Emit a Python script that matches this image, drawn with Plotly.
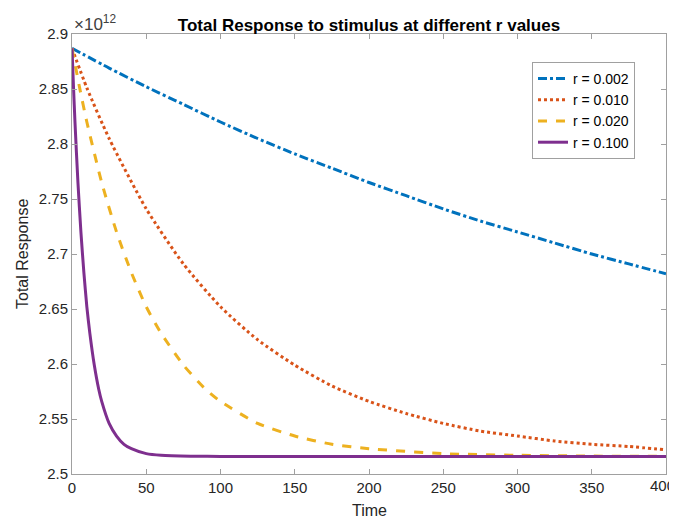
import plotly.graph_objects as go

# Values (Total Response in units of 1e12)
t_slow = [0, 25, 50, 75, 100, 125, 150, 175, 200, 225, 250, 275, 300, 325, 350, 375, 400]
r002 = [2.887, 2.869, 2.852, 2.836, 2.820, 2.805, 2.791, 2.778, 2.765, 2.753, 2.741, 2.730, 2.720, 2.710, 2.700, 2.691, 2.682]

t_mid = [0, 10, 25, 50, 75, 100, 125, 150, 175, 200, 225, 250, 275, 300, 325, 350, 375, 400]
r010 = [2.887, 2.851, 2.805, 2.741, 2.691, 2.652, 2.622, 2.599, 2.580, 2.566, 2.555, 2.546, 2.539, 2.5345, 2.530, 2.527, 2.525, 2.522]

t_fast = [0, 5, 10, 20, 30, 40, 50, 60, 75, 90, 100, 125, 150, 175, 200, 250, 300, 350, 400]
r020 = [2.887, 2.852, 2.820, 2.765, 2.720, 2.683, 2.652, 2.628, 2.599, 2.577, 2.566, 2.546, 2.5345, 2.527, 2.523, 2.5185, 2.517, 2.5163, 2.516]

t_vfast = [0, 1, 2, 4, 6, 8, 10, 12, 15, 18, 20, 25, 30, 35, 40, 50, 60, 80, 100, 200, 300, 400]
r100 = [2.887, 2.852, 2.820, 2.765, 2.720, 2.683, 2.652, 2.628, 2.599, 2.577, 2.566, 2.546, 2.5345, 2.527, 2.523, 2.5185, 2.517, 2.5162, 2.516, 2.516, 2.516, 2.516]

labels = ["r = 0.002", "r = 0.010", "r = 0.020", "r = 0.100"]
colors = ["#0072BD", "#D95319", "#EDB120", "#7E2F8E"]
dashes = ["dashdot", "dot", "dash", "solid"]
x_ticks = [0, 50, 100, 150, 200, 250, 300, 350, 400]

series = [(t_slow, r002), (t_mid, r010), (t_fast, r020), (t_vfast, r100)]

fig = go.Figure()
for (x, y), lab, c, d in zip(series, labels, colors, dashes):
    fig.add_trace(go.Scatter(x=x, y=y, mode="lines", name=lab,
                             line=dict(color=c, width=3, dash=d, shape="spline", smoothing=0.6)))

FONT = "Liberation Sans, Arial, Helvetica"
TICKFONT = dict(family=FONT, size=15, color="#262626")
axis_common = dict(showgrid=False, zeroline=False, showline=True, linecolor="#a0a0a0",
                   linewidth=1, mirror="ticks", ticks="inside", ticklen=5, tickcolor="#a0a0a0",
                   automargin=False, tickfont=TICKFONT)

# the page body has an 8px default margin, so work in page coords minus 8
O = 8
W, H = 677 - O, 521 - O
L, R, T, B = 72 - O, 666 - O, 34 - O, 474 - O

fig.update_layout(
    width=W, height=H,
    paper_bgcolor="white", plot_bgcolor="white",
    margin=dict(l=L, r=W - R, t=T, b=H - B, autoexpand=False),
    title=dict(text="<b>Total Response to stimulus at different r values</b>",
               x=(L + R) / 2 / W, xanchor="center", y=1 - (25 - O) / H, yanchor="middle",
               font=dict(family=FONT, size=17, color="black")),
    xaxis=dict(range=[0, 400], tickvals=x_ticks[:-1], **axis_common),
    yaxis=dict(range=[2.5, 2.9], dtick=0.05, **axis_common),
    legend=dict(x=(532 - O - L) / (R - L), y=(B - (62 - O)) / (B - T), xref="paper", yref="paper",
                xanchor="left", yanchor="top",
                bgcolor="white", bordercolor="#a0a0a0", borderwidth=1,
                font=dict(family=FONT, size=14, color="black"),
                tracegroupgap=0, itemwidth=30),
    showlegend=True,
    annotations=[
        dict(text="×10<sup>12</sup>", x=0, xref="paper", y=1, yref="paper",
             xanchor="left", yanchor="bottom", showarrow=False, yshift=-2,
             font=dict(family=FONT, size=17, color="#404040")),
        dict(text=str(x_ticks[-1]), x=x_ticks[-1], xref="x", y=0, yref="paper",
             xanchor="right", yanchor="top", showarrow=False, yshift=-1, xshift=W - R,
             font=TICKFONT),
        dict(text="Time", x=0.5, xref="paper", y=(B - (510 - O)) / (B - T), yref="paper",
             xanchor="center", yanchor="middle", showarrow=False,
             font=dict(family=FONT, size=16, color="#262626")),
        dict(text="Total Response", x=(22 - O - L) / (R - L), xref="paper", y=(B - (254 - O)) / (B - T),
             yref="paper", xanchor="center", yanchor="middle", showarrow=False, textangle=-90,
             font=dict(family=FONT, size=16, color="#262626")),
    ]
)

fig.write_html("out.html")
